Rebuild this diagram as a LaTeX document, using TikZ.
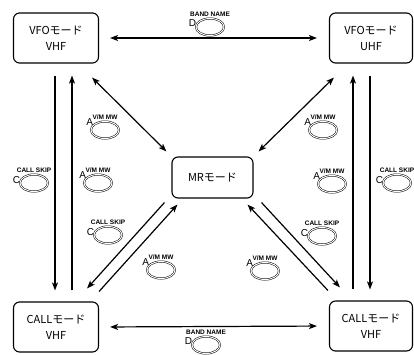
\documentclass[tikz,border=0pt]{standalone}
\usepackage{fontspec}
\setmainfont{Liberation Sans}
\newfontfamily\jpfont{Noto Sans CJK JP}
\usetikzlibrary{arrows.meta, shapes.geometric, positioning}

\begin{document}
\begin{tikzpicture}[
    x=1pt, y=-1pt,
    line width=1.2pt,
    modebox/.style={draw, rounded corners=6pt, line width=1.1pt, align=center,
      minimum width=85pt, minimum height=50pt, inner sep=2pt,
      font=\jpfont\fontsize{11}{16}\selectfont},
    keyring/.style={ellipse, draw, double, line width=0.5pt, double distance=1pt,
      minimum width=28pt, minimum height=17pt, inner sep=0pt},
    keylabel/.style={font=\bfseries\fontsize{6.5}{7}\selectfont, inner sep=0pt},
    keyletter/.style={font=\fontsize{10}{10}\selectfont, inner sep=0pt},
    onearrow/.style={-{Stealth[length=8pt, width=6pt, inset=2pt]}},
    twoarrow/.style={{Stealth[length=8pt, width=6pt, inset=2pt]}-{Stealth[length=8pt, width=6pt, inset=2pt]}}
  ]
  \useasboundingbox (0,0) rectangle (414,354);

  % --- mode boxes --------------------------------------------------------
  \node[modebox] (vfovhf) at (56,38)  {VFOモード\\VHF};
  \node[modebox, minimum width=83pt] (vfouhf) at (371,38) {VFOモード\\UHF};
  \node[modebox, minimum width=81pt, minimum height=41pt] (mrmode) at (212.5,177.5) {MRモード};
  \node[modebox] (callvhf) at (56,327) {CALLモード\\VHF};
  \node[modebox, minimum width=83pt] (callvhfr) at (371,326) {CALLモード\\VHF};

  % --- band name (top and bottom) -------------------------------------
  \draw[twoarrow, shorten <=11pt, shorten >=12pt] (vfovhf.east) -- (vfouhf.west);
  \draw[twoarrow, shorten <=11pt, shorten >=12pt] (callvhf.east) -- (callvhfr.west);

  % --- vertical arrows (call skip / v/m mw) -----------------------------
  \draw[onearrow, shorten <=12pt, shorten >=11pt]
    ([xshift=-1pt]vfovhf.south) -- ([xshift=-1pt]callvhf.north);
  \draw[onearrow, shorten <=11pt, shorten >=12pt]
    ([xshift=16pt]callvhf.north) -- ([xshift=16pt]vfovhf.south);
  \draw[onearrow, shorten <=11pt, shorten >=12pt]
    ([xshift=-18pt]callvhfr.north) -- ([xshift=-18pt]vfouhf.south);
  \draw[onearrow, shorten <=12pt, shorten >=11pt]
    ([xshift=-1pt]vfouhf.south) -- ([xshift=-1pt]callvhfr.north);

  % --- diagonals to the MR mode ---------------------------------------
  \draw[twoarrow] ([xshift=-7pt, yshift=-14pt]vfovhf.south east)
    -- ([xshift=-5pt, yshift=5pt]mrmode.north west);
  \draw[twoarrow] ([xshift=5pt, yshift=5pt]mrmode.north east)
    -- ([xshift=5pt, yshift=-14pt]vfouhf.south west);

  \draw[onearrow] ([xshift=-7pt, yshift=-4pt]mrmode.south west)
    -- ([xshift=-12pt, yshift=13pt]callvhf.north east);
  \draw[onearrow] ([yshift=10pt]callvhf.north east)
    -- ([xshift=6pt, yshift=-6pt]mrmode.south west);
  \draw[onearrow] ([xshift=8pt, yshift=-4pt]mrmode.south east)
    -- ([xshift=11pt, yshift=13pt]callvhfr.north west);
  \draw[onearrow] ([xshift=-1pt, yshift=10pt]callvhfr.north west)
    -- ([xshift=-6pt, yshift=-6pt]mrmode.south east);

  % --- keys ------------------------------------------------------------
  \node[keyring] (bandtop) at (210,27) {};
  \node[keylabel, above=1pt of bandtop] (bandtopt) {BAND NAME};
  \node[keyletter, left=-1pt of bandtop, yshift=4pt] (bandtopl) {D};

  \node[keyring] (bandbot) at (206,345) {};
  \node[keylabel, above=1pt of bandbot] (bandbott) {BAND NAME};
  \node[keyletter, left=-1pt of bandbot, yshift=4pt] (bandbotl) {D};

  \node[keyring] (skipl) at (34,183) {};
  \node[keylabel, above=1pt of skipl] (skiplt) {CALL SKIP};
  \node[keyletter, left=-1pt of skipl, yshift=3pt] (skipll) {C};

  \node[keyring] (vml) at (98,183) {};
  \node[keylabel, above=1pt of vml] (vmlt) {V/M MW};
  \node[keyletter, left=-3pt of vml, yshift=8pt] (vmll) {A};

  \node[keyring] (vmtl) at (105,130) {};
  \node[keylabel, above=1pt of vmtl] (vmtlt) {V/M MW};
  \node[keyletter, left=-3pt of vmtl, yshift=8pt] (vmtll) {A};

  \node[keyring] (skipbl) at (108,235) {};
  \node[keylabel, above=1pt of skipbl] (skipblt) {CALL SKIP};
  \node[keyletter, left=-1pt of skipbl, yshift=3pt] (skipbll) {C};

  \node[keyring] (vmbl) at (161,270) {};
  \node[keylabel, above=1pt of vmbl] (vmblt) {V/M MW};
  \node[keyletter, left=-3pt of vmbl, yshift=8pt] (vmbll) {A};

  \node[keyring] (vmbr) at (265,271) {};
  \node[keylabel, above=1pt of vmbr] (vmbrt) {V/M MW};
  \node[keyletter, left=-3pt of vmbr, yshift=8pt] (vmbrl) {A};

  \node[keyring] (skipbr) at (322,236) {};
  \node[keylabel, above=1pt of skipbr] (skipbrt) {CALL SKIP};
  \node[keyletter, left=-1pt of skipbr, yshift=3pt] (skipbrl) {C};

  \node[keyring] (vmr) at (332,184) {};
  \node[keylabel, above=1pt of vmr] (vmrt) {V/M MW};
  \node[keyletter, left=-3pt of vmr, yshift=8pt] (vmrl) {A};

  \node[keyring] (skipr) at (397,183) {};
  \node[keylabel, above=1pt of skipr] (skiprt) {CALL SKIP};
  \node[keyletter, left=-1pt of skipr, yshift=3pt] (skiprl) {C};

  \node[keyring] (vmtr) at (323,130) {};
  \node[keylabel, above=1pt of vmtr] (vmtrt) {V/M MW};
  \node[keyletter, left=-3pt of vmtr, yshift=8pt] (vmtrl) {A};

\end{tikzpicture}
\end{document}
